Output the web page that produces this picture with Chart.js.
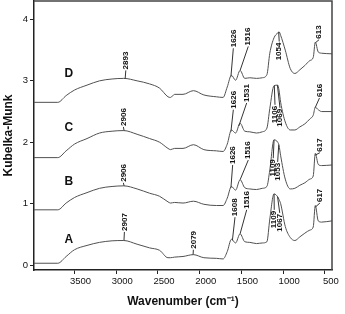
<!DOCTYPE html>
<html lang="en">
<head>
  <meta charset="UTF-8" />
  <title>Kubelka-Munk</title>
  <script src="https://cdn.jsdelivr.net/npm/chart.js"></script>
  <style>
    html, body { margin: 0; padding: 0; background: #fff; }
  </style>
</head>
<body>
<canvas id="grafico" width="345" height="314"></canvas>
<script>
  const wavenumbers = [3985, 3700, 3600, 3500, 3350, 3200, 3050, 2910, 2750, 2600, 2480, 2380, 2350, 2300, 2200, 2075, 1950, 1800, 1720, 1670, 1620, 1570, 1516, 1460, 1400, 1320, 1250, 1195, 1160, 1110, 1065, 1050, 1030, 975, 915, 860, 800, 740, 680, 640, 615, 580, 540, 415];
  const serieA = [0.03, 0.03, 0.14, 0.25, 0.32, 0.37, 0.395, 0.40, 0.34, 0.28, 0.24, 0.12, 0.12, 0.13, 0.14, 0.17, 0.12, 0.11, 0.10, 0.22, 0.42, 0.36, 0.51, 0.38, 0.37, 0.35, 0.36, 0.38, 0.75, 1.16, 1.11, 1.07, 1.00, 0.63, 0.45, 0.40, 0.46, 0.52, 0.57, 0.62, 0.97, 0.72, 0.70, 0.72];
  const serieB = [0.90, 0.90, 1.01, 1.10, 1.18, 1.25, 1.28, 1.29, 1.24, 1.17, 1.12, 1.03, 1.01, 1.02, 1.01, 1.04, 0.99, 0.97, 0.97, 1.09, 1.28, 1.22, 1.39, 1.26, 1.24, 1.23, 1.25, 1.28, 1.55, 2.04, 2.00, 1.95, 1.78, 1.40, 1.24, 1.25, 1.30, 1.34, 1.40, 1.45, 1.82, 1.64, 1.62, 1.63];
  const serieC = [1.75, 1.75, 1.86, 1.97, 2.06, 2.15, 2.18, 2.19, 2.13, 2.06, 2.00, 1.90, 1.88, 1.90, 1.90, 1.96, 1.88, 1.86, 1.85, 1.97, 2.20, 2.15, 2.31, 2.18, 2.17, 2.15, 2.17, 2.23, 2.55, 2.92, 2.93, 2.85, 2.65, 2.33, 2.20, 2.20, 2.25, 2.30, 2.38, 2.44, 2.57, 2.53, 2.50, 2.50];
  const serieD = [2.65, 2.65, 2.76, 2.85, 2.93, 3.00, 3.03, 3.04, 3.00, 2.95, 2.88, 2.74, 2.73, 2.78, 2.78, 2.84, 2.77, 2.74, 2.73, 2.90, 3.09, 3.01, 3.17, 3.04, 3.05, 3.04, 3.05, 3.10, 3.45, 3.70, 3.78, 3.80, 3.74, 3.50, 3.20, 3.12, 3.18, 3.25, 3.33, 3.38, 3.63, 3.47, 3.45, 3.44];
  const nombres = ['A', 'B', 'C', 'D'];
  const yTicks = [0, 1, 2, 3, 4];
  const xTicks = [3500, 3000, 2500, 2000, 1500, 1000, 500];

  // Números de los picos
  const picosA = ['2907', '2079', '1608', '1516', '1109', '1067', '617'];
  const picosB = ['2906', '1626', '1516', '1109', '1053', '617'];
  const picosC = ['2906', '1626', '1531', '1106', '1069', '616'];
  const picosD = ['2893', '1626', '1516', '1054', '613'];

  const series = [serieA, serieB, serieC, serieD];
  const picos = [picosA, picosB, picosC, picosD];

  // Donde va cada etiqueta: [wavenumber, valor, sentido] (1 = hacia arriba, -1 = hacia abajo)
  const lugares = [
    [[2902, 0.54, 1], [2076, 0.25, 1], [1577, 0.78, 1], [1437, 0.90, 1], [1107, 0.90, -1], [1041, 0.85, -1], [560, 1.01, 1]],
    [[2914, 1.34, 1], [1605, 1.63, 1], [1418, 1.71, 1], [1119, 1.74, -1], [1066, 1.68, -1], [560, 1.83, 1]],
    [[2914, 2.25, 1], [1597, 2.53, 1], [1437, 2.64, 1], [1098, 2.61, -1], [1038, 2.56, -1], [565, 2.72, 1]],
    [[2885, 3.17, 1], [1597, 3.53, 1], [1418, 3.56, 1], [1047, 3.64, -1], [570, 3.67, 1]]
  ];
  const letras = [[3569, 0.42], [3569, 1.36], [3569, 2.24], [3569, 3.12]];

  function valorEn(serie, w) {
    for (let i = 0; i < wavenumbers.length - 1; i++) {
      const w0 = wavenumbers[i], w1 = wavenumbers[i + 1];
      if (w <= w0 && w >= w1) {
        const t = (w0 - w) / (w0 - w1);
        return serie[i] + t * (serie[i + 1] - serie[i]);
      }
    }
    return serie[serie.length - 1];
  }

  // Etiquetas de picos, letras y marco
  const anotaciones = {
    id: 'anotaciones',
    afterDatasetsDraw(chart) {
      const { ctx, chartArea, scales: { x, y } } = chart;
      ctx.save();
      ctx.strokeStyle = '#333';
      ctx.fillStyle = '#111';
      ctx.lineWidth = 1;
      ctx.font = 'bold 8px "Liberation Sans", Arial, sans-serif';
      ctx.textBaseline = 'middle';
      series.forEach((serie, s) => {
        picos[s].forEach((txt, k) => {
          const [lw, lv, dir] = lugares[s][k];
          const pw = Number(txt);
          const px = x.getPixelForValue(pw);
          const py = y.getPixelForValue(valorEn(serie, pw));
          const lx = x.getPixelForValue(lw);
          const ly = y.getPixelForValue(lv);
          ctx.beginPath();
          ctx.moveTo(px, py);
          ctx.lineTo(lx, ly);
          ctx.stroke();
          ctx.save();
          ctx.translate(lx, ly);
          ctx.rotate(-Math.PI / 2);
          ctx.textAlign = dir > 0 ? 'left' : 'right';
          ctx.fillText(txt, dir > 0 ? 1 : -1, 0);
          ctx.restore();
        });
      });
      ctx.font = 'bold 12px "Liberation Sans", Arial, sans-serif';
      ctx.textAlign = 'center';
      nombres.forEach((n, i) => {
        ctx.fillText(n, x.getPixelForValue(letras[i][0]), y.getPixelForValue(letras[i][1]));
      });
      // marco superior y derecho
      ctx.strokeStyle = '#444';
      ctx.lineWidth = 1.5;
      ctx.beginPath();
      ctx.moveTo(chartArea.left, chartArea.top);
      ctx.lineTo(chartArea.right, chartArea.top);
      ctx.lineTo(chartArea.right, chartArea.bottom);
      ctx.stroke();
      ctx.restore();
    }
  };

  const fuenteTicks = { family: '"Liberation Sans", Arial, sans-serif', size: 9.5 };
  const fuenteTitulo = { family: '"Liberation Sans", Arial, sans-serif', size: 12, weight: 'bold' };

  const ctx = document.getElementById('grafico').getContext('2d');
  const grafico = new Chart(ctx, {
    type: 'line',
    data: {
      datasets: series.map((serie, s) => ({
        label: nombres[s],
        data: wavenumbers.map((w, i) => ({ x: w, y: serie[i] })),
        borderColor: '#505050',
        borderWidth: 1,
        pointRadius: 0,
        cubicInterpolationMode: 'monotone',
        fill: false
      }))
    },
    options: {
      responsive: false,
      animation: false,
      devicePixelRatio: 1,
      layout: { padding: { left: 0, right: 13, top: 1, bottom: 0 } },
      plugins: { legend: { display: false }, tooltip: { enabled: false } },
      scales: {
        x: {
          type: 'linear',
          reverse: true,
          min: 415,
          max: 3985,
          afterFit: (s) => { s.height = 44; s.paddingLeft = 0; s.paddingRight = 0; },
          afterBuildTicks: (s) => { s.ticks = xTicks.map(v => ({ value: v })); },
          ticks: {
            font: fuenteTicks,
            color: '#111',
            padding: 2,
            labelOffset: 6,
            maxRotation: 0,
            autoSkip: false,
            callback: (v) => String(v)
          },
          grid: { drawOnChartArea: false, tickLength: 4, color: '#222' },
          border: { color: '#222', width: 1.5 },
          title: { display: true, text: 'Wavenumber (cm\u207B\u00B9)', font: fuenteTitulo, color: '#111', padding: { top: 0, bottom: 5 } }
        },
        y: {
          min: -0.08,
          max: 4.3,
          afterFit: (s) => { s.width = 34; s.paddingTop = 0; s.paddingBottom = 0; },
          afterBuildTicks: (s) => { s.ticks = yTicks.map(v => ({ value: v })); },
          ticks: { font: fuenteTicks, color: '#111', padding: 2, callback: (v) => String(v) },
          grid: { drawOnChartArea: false, tickLength: 4, color: '#222' },
          border: { color: '#222', width: 1.5 },
          title: { display: true, text: 'Kubelka-Munk', font: fuenteTitulo, color: '#111', padding: { top: 1, bottom: 0 } }
        }
      }
    },
    plugins: [anotaciones]
  });
</script>
</body>
</html>
